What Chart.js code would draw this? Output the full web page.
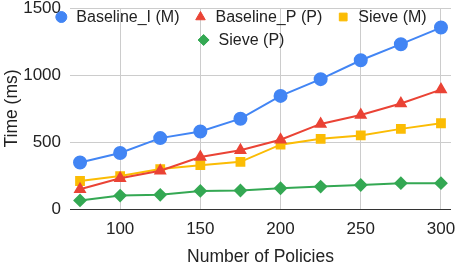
<!DOCTYPE html>
<html>
<head>
<meta charset="utf-8">
<script src="https://cdn.jsdelivr.net/npm/chart.js@4/dist/chart.umd.min.js"></script>
<style>
  body { margin: 0; background: #fff; }
  #wrap { width: 459px; height: 265px; }
</style>
</head>
<body>
<div id="wrap"><canvas id="chart"></canvas></div>
<script>
const policies = [75, 100, 125, 150, 175, 200, 225, 250, 275, 300]
const baselineI = [347, 418, 529, 578, 674, 844, 969, 1110, 1230, 1354]
const baselineP = [148, 229, 285, 388, 438, 517, 635, 702, 787, 891]
const sieveM = [209, 246, 298, 327, 352, 480, 524, 549, 598, 640]
const sieveP = [64, 100, 106, 135, 138, 155, 167, 179, 193, 193]
const xTicks = [100, 150, 200, 250, 300]
const yTicks = [0, 500, 1000, 1500]

const FONT = "'Liberation Sans', Arial, sans-serif"

function series(label, vals, color, shape, r) {
    return {
        label: label,
        data: policies.map((p, i) => ({x: p, y: vals[i]})),
        borderColor: color,
        backgroundColor: color,
        borderWidth: 2,
        pointStyle: shape,
        pointRadius: r,
        pointHoverRadius: r
    }
}

// legend drawn over the plot: two rows, centred
const overlayLegend = {
    id: 'overlayLegend',
    afterDraw(chart) {
        const c = chart.ctx
        const rows = [[0, 1, 2], [3]]
        const rowY = [17, 40]
        const centre = 244
        const markGap = 15, itemGap = 21
        c.save()
        c.font = '16px ' + FONT
        c.textBaseline = 'middle'
        rows.forEach((row, ri) => {
            const widths = row.map(i => c.measureText(chart.data.datasets[i].label).width)
            const total = widths.reduce((a, w) => a + w + markGap, 0) + itemGap * (row.length - 1)
            let x = centre - total / 2
            row.forEach((di, k) => {
                const ds = chart.data.datasets[di]
                c.fillStyle = ds.backgroundColor
                c.strokeStyle = ds.borderColor
                c.lineWidth = 1
                Chart.helpers.drawPoint(c, {pointStyle: ds.pointStyle, radius: 5.5, rotation: 0, borderWidth: 1}, x, rowY[ri])
                c.fillStyle = '#222'
                c.fillText(ds.label, x + markGap, rowY[ri] + 1)
                x += markGap + widths[k] + itemGap
            })
        })
        c.restore()
    }
}

const ctx = document.getElementById('chart').getContext('2d')
new Chart(ctx, {
    type: 'line',
    data: {
        datasets: [
            series('Baseline_I (M)', baselineI, '#4285F4', 'circle', 6),
            series('Baseline_P (P)', baselineP, '#EA4335', 'triangle', 5.5),
            series('Sieve (M)', sieveM, '#FBBC04', 'rect', 5.5),
            series('Sieve (P)', sieveP, '#34A853', 'rectRot', 5.5)
        ]
    },
    options: {
        responsive: true,
        maintainAspectRatio: false,
        animation: false,
        layout: { padding: { left: 2, right: 5, top: 6, bottom: 0 } },
        plugins: {
            legend: { display: false },
            tooltip: { enabled: false }
        },
        scales: {
            x: {
                type: 'linear',
                min: 68.75,
                max: 306.25,
                afterBuildTicks: axis => { axis.ticks = xTicks.map(v => ({value: v})) },
                afterFit: s => { s.height = 56; s.paddingLeft = 0; s.paddingRight = 0 },
                grid: { color: '#cccccc', drawTicks: false },
                border: { display: false },
                ticks: { color: '#222', padding: 10, maxRotation: 0, font: { family: FONT, size: 17 } },
                title: {
                    display: true,
                    text: 'Number of Policies',
                    color: '#222',
                    padding: { top: 0, bottom: -3 },
                    font: { family: FONT, size: 17.5 }
                }
            },
            y: {
                min: 0,
                max: 1500,
                afterBuildTicks: axis => { axis.ticks = yTicks.map(v => ({value: v})) },
                afterFit: s => { s.width = 68; s.paddingTop = 0; s.paddingBottom = 0 },
                grid: {
                    drawTicks: false,
                    color: ctx => ctx.tick && ctx.tick.value === 0 ? '#333333' : '#cccccc'
                },
                border: { display: false },
                ticks: {
                    color: '#222',
                    padding: 9,
                    font: { family: FONT, size: 17 },
                    callback: v => String(v)
                },
                title: {
                    display: true,
                    text: 'Time (ms)',
                    color: '#222',
                    padding: { top: 0, bottom: 0 },
                    font: { family: FONT, size: 17.5 }
                }
            }
        }
    },
    plugins: [overlayLegend]
})
</script>
</body>
</html>
